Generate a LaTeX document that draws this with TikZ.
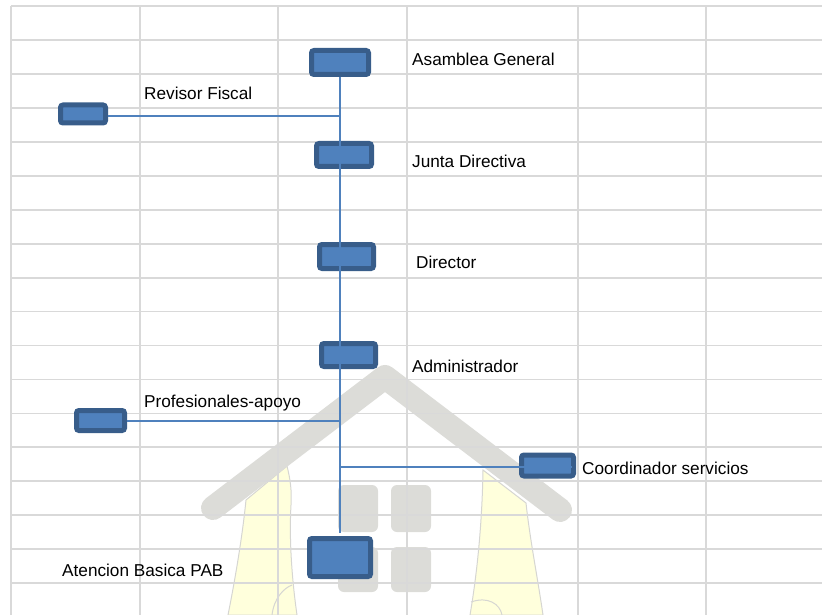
\documentclass[tikz,border=0pt]{standalone}
\usepackage{fontspec}
\setmainfont{Liberation Sans}
\usepackage{tikz}
\usetikzlibrary{calc}
\definecolor{boxfill}{HTML}{4F81BD}
\definecolor{boxline}{HTML}{385D8A}
\definecolor{gridgray}{HTML}{D9D9D9}
\definecolor{roofgray}{HTML}{DCDCD8}
\definecolor{handfill}{HTML}{FFFFDC}
\definecolor{handline}{HTML}{D6D6D2}
\tikzstyle{unit}=[rectangle,draw=boxline,fill=boxfill,line width=5pt,rounded corners=2.5pt,inner sep=0pt]
\tikzstyle{caption}=[anchor=base west,inner sep=0pt,font=\fontsize{17.2}{20}\selectfont]
\tikzstyle{link} = [draw,boxfill,line width=1.5pt,-]

\begin{document}
\begin{tikzpicture}[x=1pt,y=-1pt]
        \useasboundingbox (0,0) rectangle (822,615);
        \tikzset{cell/.style = {gridgray,line width=1.8pt}}
        % watermark
        \filldraw[fill=handfill,draw=handline,line width=1pt] (246,500) .. controls (242,540) and (234,585) .. (228,615) -- (297,615) .. controls (292,580) and (289,540) .. (291,505) .. controls (292,490) and (290,478) .. (287,466) -- cycle;
        \draw[handline,line width=1pt] (272,615) .. controls (274,598) and (284,588) .. (292,585);
        \filldraw[fill=handfill,draw=handline,line width=1pt] (483,470) .. controls (482,530) and (476,580) .. (470,615) -- (543,615) .. controls (538,580) and (530,540) .. (526,503) -- cycle;
        \draw[handline,line width=1pt] (471,602) .. controls (488,596) and (500,604) .. (502,615);
        \draw[roofgray,line width=24pt,line cap=round,line join=round] (213,508) -- (385,377) -- (560,510);
        \fill[roofgray,rounded corners=6pt] (338,485) rectangle (378,532);
        \fill[roofgray,rounded corners=6pt] (391,485) rectangle (431,532);
        \fill[roofgray,rounded corners=6pt] (338,547) rectangle (378,592);
        \fill[roofgray,rounded corners=6pt] (391,547) rectangle (431,592);
        % grid
        \foreach \y in {0,...,17}
          \draw[cell] (11,6+33.95*\y) -- (822,6+33.95*\y);
        \foreach \x in {11,140,278,407,578,706}
          \draw[cell] (\x,6) -- (\x,615);
        % chart
        \node[unit,minimum width=57pt,minimum height=24pt] (asamblea) at (340,62.5) {};
        \node[unit,minimum width=45pt,minimum height=18pt] (revisor) at (83,114) {};
        \node[unit,minimum width=55pt,minimum height=23pt] (junta) at (344,155) {};
        \node[unit,minimum width=54pt,minimum height=24pt] (director) at (346.5,256.5) {};
        \node[unit,minimum width=54pt,minimum height=23pt] (admin) at (348.5,355) {};
        \node[unit,minimum width=48pt,minimum height=20pt] (profes) at (100.5,420.5) {};
        \node[unit,minimum width=52pt,minimum height=21pt] (coord) at (547.5,465.5) {};
        \node[unit,minimum width=61pt,minimum height=38pt] (atencion) at (340,557.5) {};
        \node[caption] (tasamblea) at (412,66) {Asamblea General};
        \node[caption] (trevisor) at (144,100) {Revisor Fiscal};
        \node[caption] (tjunta) at (412,167.5) {Junta Directiva};
        \node[caption] (tdirector) at (416,268) {Director};
        \node[caption] (tadmin) at (412,372) {Administrador};
        \node[caption] (tprofes) at (144,407) {Profesionales-apoyo};
        \node[caption] (tcoord) at (582,474) {Coordinador servicios};
        \node[caption] (tatencion) at (62,576) {Atencion Basica PAB};
        \coordinate (jrev) at (340,116);
        \coordinate (jpro) at (340,421);
        \coordinate (jcoo) at (340,467);
        \coordinate (ecoo) at ([xshift=-4pt]coord.east);
        \draw[link,shorten >=3pt] (asamblea.south) to (atencion.north);
        \draw[link] (jrev -| revisor.east) to (jrev);
        \draw[link] (jpro -| profes.east) to (jpro);
        \draw[link] (jcoo) to (jcoo -| ecoo);
      \end{tikzpicture}
\end{document}
